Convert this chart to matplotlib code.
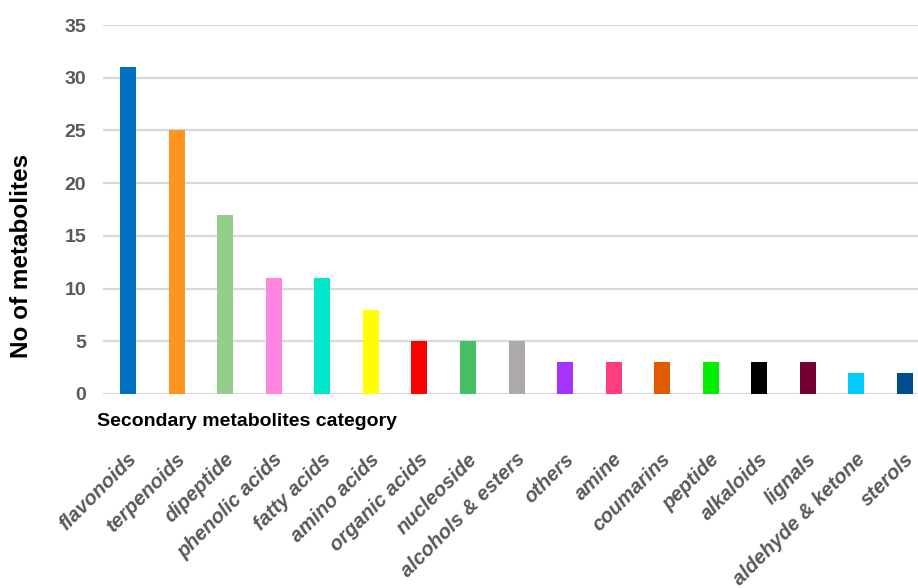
import numpy as np
import matplotlib
matplotlib.use("Agg")
import matplotlib.pyplot as plt
import matplotlib.transforms as mtransforms

plt.rcParams['font.family'] = ['Liberation Sans', 'DejaVu Sans']

categories = ["flavonoids", "terpenoids", "dipeptide", "phenolic acids", "fatty acids",
              "amino acids", "organic acids", "nucleoside", "alcohols & esters", "others",
              "amine", "coumarins", "peptide", "alkaloids", "lignals",
              "aldehyde & ketone", "sterols"]
counts = [31, 25, 17, 11, 11, 8, 5, 5, 5, 3, 3, 3, 3, 3, 3, 2, 2]
bar_colors = ["#0070C0", "#FF9420", "#92D08A", "#FF85E0", "#00E8CC",
              "#FFFF00", "#FF0000", "#45BF65", "#AFAAAA", "#A733FF",
              "#FF4080", "#E05A00", "#00EE00", "#000000", "#720030",
              "#00CCFF", "#004C8C"]
y_ticks = [0, 5, 10, 15, 20, 25, 30, 35]

fig = plt.figure(figsize=(9.18, 5.88), dpi=100)
ax = fig.add_axes([103 / 918, 1 - 394 / 588, 815 / 918, 369 / 588])

x = np.arange(len(categories))
ax.bar(x, counts, width=0.33, color=bar_colors, zorder=3)

ax.set_ylim(0, 35)
ax.set_xlim(-0.52, len(categories) - 0.73)
ax.set_yticks(y_ticks)
ax.yaxis.grid(True, color="#D9D9D9", linewidth=1.6, zorder=0)
ax.set_axisbelow(True)
for side in ax.spines.values():
    side.set_visible(False)

ax.tick_params(axis="y", length=0, pad=12, labelsize=14, labelcolor="#595959")
for lbl in ax.get_yticklabels():
    lbl.set_fontweight("bold")

# rotated category names, right end sitting just under each bar
ax.set_xticks(x)
ax.set_xticklabels(categories, rotation=45, ha="right", rotation_mode="anchor",
                   fontsize=14.5, fontweight="bold", fontstyle="italic", color="#595959")
ax.tick_params(axis="x", length=0, pad=40)
shift = mtransforms.ScaledTranslation(-1 / 100, 0, fig.dpi_scale_trans)
for lbl in ax.get_xticklabels():
    lbl.set_transform(lbl.get_transform() + shift)

fig.text(22 / 918, 1 - 256 / 588, "No of metabolites", rotation=90, ha="center",
         va="center", fontsize=17.5, fontweight="bold", color="black")
fig.text(97 / 918, 1 - 422 / 588, "Secondary metabolites category", ha="left",
         va="center", fontsize=14, fontweight="bold", color="black")

fig.savefig("out.png", dpi=100)
